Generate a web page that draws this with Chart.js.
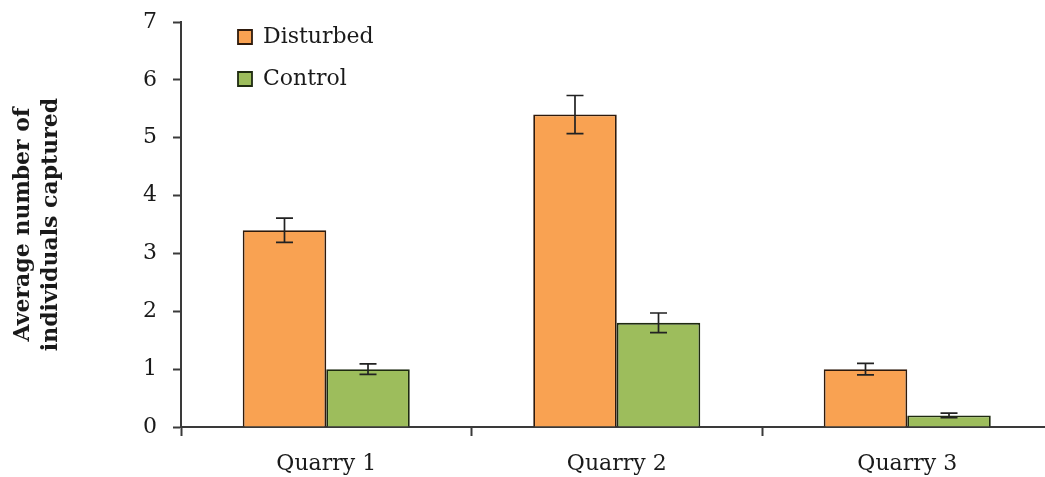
<!DOCTYPE html>
<html>
<head>
<meta charset="utf-8">
<script src="https://cdn.jsdelivr.net/npm/chart.js@4/dist/chart.umd.min.js"></script>
<style>
  html, body { margin: 0; padding: 0; background: #fff; overflow: hidden; }
  #wrap { position: relative; width: 1060px; height: 477px; }
</style>
</head>
<body>
<div id="wrap"><canvas id="c"></canvas></div>
<script>
// Average captures per quarry, disturbed vs control plots (mean ± SE)
const categories = ['Quarry 1', 'Quarry 2', 'Quarry 3'];
const disturbed = [3.4, 5.4, 1.0];
const disturbedErr = [0.21, 0.33, 0.1];
const control = [1.0, 1.8, 0.2];
const controlErr = [0.09, 0.17, 0.04];
const yTicks = [0, 1, 2, 3, 4, 5, 6, 7];
const yTitle = ['Average number of', 'individuals captured'];

const SERIF = '"DejaVu Serif", serif';
const AXIS = '#3a3a3a';

// Draws vertical error bars with caps on every bar
const errorBars = {
  id: 'errorBars',
  afterDatasetsDraw(chart) {
    const ctx = chart.ctx;
    const y = chart.scales.y;
    chart.data.datasets.forEach((ds, i) => {
      const meta = chart.getDatasetMeta(i);
      meta.data.forEach((bar, j) => {
        const v = ds.data[j], e = ds.errors[j];
        const top = y.getPixelForValue(v + e);
        const bot = y.getPixelForValue(v - e);
        const half = 8.5;
        ctx.save();
        ctx.strokeStyle = '#222';
        ctx.lineWidth = 1.7;
        ctx.beginPath();
        ctx.moveTo(bar.x, top); ctx.lineTo(bar.x, bot);
        ctx.moveTo(bar.x - half, top); ctx.lineTo(bar.x + half, top);
        ctx.moveTo(bar.x - half, bot); ctx.lineTo(bar.x + half, bot);
        ctx.stroke();
        ctx.restore();
      });
    });
  }
};

// Puts the legend in the upper-left corner of the plot
const legendPlacement = {
  id: 'legendPlacement',
  afterLayout(chart) {
    const lg = chart.legend;
    if (!lg) return;
    lg.left = 218;
    lg.top = 6;
  }
};

new Chart(document.getElementById('c'), {
  type: 'bar',
  data: {
    labels: categories,
    datasets: [
      {
        label: 'Disturbed',
        data: disturbed,
        errors: disturbedErr,
        backgroundColor: '#F9A252',
        borderColor: '#2e1a0c',
        borderWidth: 1.8,
        categoryPercentage: 0.575,
        barPercentage: 1.0
      },
      {
        label: 'Control',
        data: control,
        errors: controlErr,
        backgroundColor: '#9DBD5C',
        borderColor: '#1e2a10',
        borderWidth: 1.8,
        categoryPercentage: 0.575,
        barPercentage: 1.0
      }
    ]
  },
  options: {
    responsive: true,
    maintainAspectRatio: false,
    animation: false,
    layout: { padding: { top: 22, right: 7.5, bottom: 0, left: 0 } },
    plugins: {
      tooltip: { enabled: false },
      legend: {
        position: 'chartArea',
        align: 'start',
        fullSize: false,
        labels: {
          boxWidth: 14,
          boxHeight: 14,
          padding: 20,
          color: '#1a1a1a',
          font: { family: SERIF, size: 22 }
        }
      }
    },
    scales: {
      x: {
        offset: true,
        afterFit(scale) { scale.height = 50; },
        grid: {
          offset: true,
          drawOnChartArea: false,
          drawTicks: true,
          tickLength: 9,
          tickWidth: 2,
          tickColor: AXIS
        },
        border: { display: true, color: AXIS, width: 2 },
        ticks: {
          padding: 15,
          color: '#1a1a1a',
          font: { family: SERIF, size: 22 }
        }
      },
      y: {
        min: 0,
        max: 7,
        afterFit(scale) {
          scale.width = 181;
          scale.paddingTop = 0;
          scale.paddingBottom = 0;
        },
        afterBuildTicks(scale) { scale.ticks = yTicks.map(v => ({ value: v })); },
        grid: {
          drawOnChartArea: false,
          drawTicks: true,
          tickLength: 8,
          tickWidth: 2,
          tickColor: AXIS
        },
        border: { display: true, color: AXIS, width: 2 },
        ticks: {
          padding: 16,
          color: '#1a1a1a',
          font: { family: SERIF, size: 22 }
        },
        title: {
          display: true,
          text: yTitle,
          color: '#1a1a1a',
          padding: { top: 9, bottom: 0 },
          font: { family: SERIF, size: 22, weight: 'bold', lineHeight: 1.27 }
        }
      }
    }
  },
  plugins: [errorBars, legendPlacement]
});
</script>
</body>
</html>
